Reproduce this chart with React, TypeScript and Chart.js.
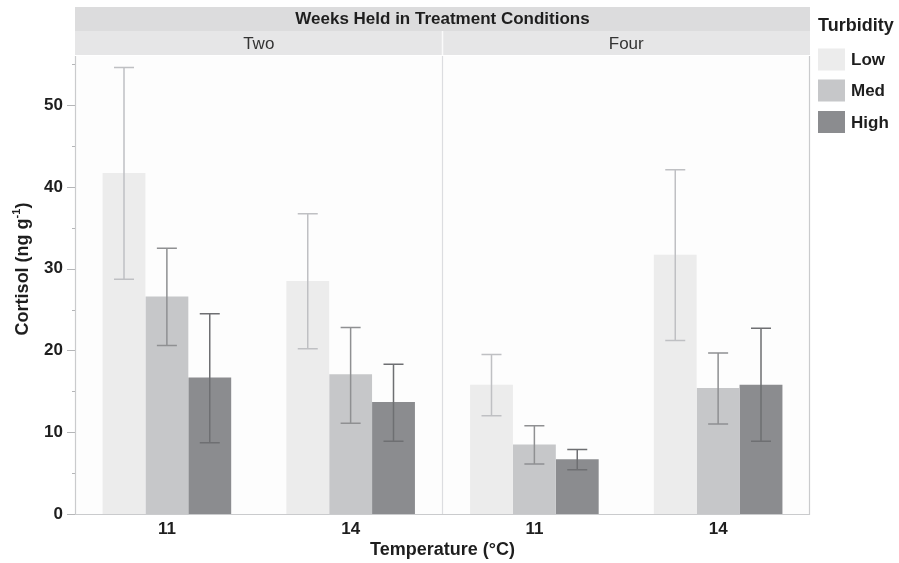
import React, { useEffect, useRef } from "react";
import { Chart, registerables } from "chart.js";

Chart.register(...registerables);

const categories = ["11", "14", "11", "14"];
const panelLabels = ["Two", "Four"];
const stripTitle = "Weeks Held in Treatment Conditions";
const seriesNames = ["Low", "Med", "High"];

const lowMeans = [41.7, 28.5, 15.8, 31.7];
const lowUpper = [54.6, 36.7, 19.5, 42.1];
const lowLower = [28.7, 20.2, 12.0, 21.2];

const medMeans = [26.6, 17.1, 8.5, 15.4];
const medUpper = [32.5, 22.8, 10.8, 19.7];
const medLower = [20.6, 11.1, 6.1, 11.0];

const highMeans = [16.7, 13.7, 6.7, 15.8];
const highUpper = [24.5, 18.3, 7.9, 22.7];
const highLower = [8.7, 8.9, 5.4, 8.9];

const yTickValues = [0, 10, 20, 30, 40, 50];
const yMinorValues = [5, 15, 25, 35, 45, 55];

const barColors = ["#ececec", "#c6c7c9", "#8b8c8f"];
const errColors = ["#bfc0c3", "#8f9092", "#6e6f72"];
const FONT = "'Liberation Sans', Arial, sans-serif";

const facetPlugin = {
  id: "facetPlugin",
  beforeDraw(chart: any) {
    const { ctx, chartArea } = chart;
    ctx.save();
    ctx.fillStyle = "#fdfdfd";
    ctx.fillRect(chartArea.left, chartArea.top, chartArea.right - chartArea.left, chartArea.bottom - chartArea.top);
    ctx.restore();
  },
  afterDatasetsDraw(chart: any) {
    const { ctx, scales } = chart;
    const y = scales.y;
    const ups = [lowUpper, medUpper, highUpper];
    const los = [lowLower, medLower, highLower];
    ctx.save();
    ctx.lineWidth = 1.5;
    for (let d = 0; d < 3; d++) {
      const meta = chart.getDatasetMeta(d);
      meta.data.forEach((bar: any, i: number) => {
        const cx = bar.x;
        const yu = y.getPixelForValue(ups[d][i]);
        const yl = y.getPixelForValue(los[d][i]);
        ctx.strokeStyle = errColors[d];
        ctx.beginPath();
        ctx.moveTo(cx, yu);
        ctx.lineTo(cx, yl);
        ctx.moveTo(cx - 10, yu);
        ctx.lineTo(cx + 10, yu);
        ctx.moveTo(cx - 10, yl);
        ctx.lineTo(cx + 10, yl);
        ctx.stroke();
      });
    }
    ctx.restore();
  },
  afterDraw(chart: any) {
    const { ctx, chartArea, scales } = chart;
    const { left, right, top, bottom } = chartArea;
    const y = scales.y;
    const mid = (left + right) / 2;
    ctx.save();
    // panel borders
    ctx.strokeStyle = "#cacbcd";
    ctx.lineWidth = 1.2;
    ctx.beginPath();
    ctx.moveTo(left + 0.5, top);
    ctx.lineTo(left + 0.5, bottom + 0.5);
    ctx.lineTo(right - 0.5, bottom + 0.5);
    ctx.lineTo(right - 0.5, top);
    ctx.stroke();
    ctx.strokeStyle = "#dcdde0";
    ctx.beginPath();
    ctx.moveTo(mid, top);
    ctx.lineTo(mid, bottom);
    ctx.stroke();

    // y ticks
    ctx.strokeStyle = "#b5b6b8";
    ctx.lineWidth = 1;
    ctx.beginPath();
    yTickValues.forEach((v) => {
      const py = Math.round(y.getPixelForValue(v)) + 0.5;
      ctx.moveTo(left - 8, py);
      ctx.lineTo(left, py);
    });
    yMinorValues.forEach((v) => {
      const py = Math.round(y.getPixelForValue(v)) + 0.5;
      ctx.moveTo(left - 3, py);
      ctx.lineTo(left, py);
    });
    ctx.stroke();

    // strips
    const stripTop = 7;
    const stripMid = 31;
    ctx.fillStyle = "#dcdcdd";
    ctx.fillRect(left, stripTop, right - left, stripMid - stripTop);
    ctx.fillStyle = "#e6e6e7";
    ctx.fillRect(left, stripMid, right - left, top - 1 - stripMid);
    ctx.strokeStyle = "#fafafa";
    ctx.lineWidth = 1.5;
    ctx.beginPath();
    ctx.moveTo(mid, stripMid);
    ctx.lineTo(mid, top - 1);
    ctx.stroke();

    ctx.fillStyle = "#1e1e1e";
    ctx.textAlign = "center";
    ctx.textBaseline = "middle";
    ctx.font = `bold 17px ${FONT}`;
    ctx.fillText(stripTitle, mid, 19.5);
    ctx.font = `17px ${FONT}`;
    ctx.fillStyle = "#333";
    ctx.fillText(panelLabels[0], (left + mid) / 2, 44);
    ctx.fillText(panelLabels[1], (mid + right) / 2, 44);

    // x title
    ctx.fillStyle = "#1e1e1e";
    ctx.font = `bold 18px ${FONT}`;
    ctx.fillText("Temperature (°C)", mid, 550);

    // y title with superscript
    ctx.save();
    ctx.translate(23, 269);
    ctx.rotate(-Math.PI / 2);
    const main = "Cortisol (ng g";
    const sup = "-1";
    const close = ")";
    ctx.font = `bold 18px ${FONT}`;
    const w1 = ctx.measureText(main).width;
    const w3 = ctx.measureText(close).width;
    ctx.font = `bold 11px ${FONT}`;
    const w2 = ctx.measureText(sup).width;
    const total = w1 + w2 + w3;
    let sx = -total / 2;
    ctx.textAlign = "left";
    ctx.font = `bold 18px ${FONT}`;
    ctx.fillText(main, sx, 0);
    sx += w1;
    ctx.font = `bold 11px ${FONT}`;
    ctx.fillText(sup, sx, -6);
    sx += w2;
    ctx.font = `bold 18px ${FONT}`;
    ctx.fillText(close, sx, 0);
    ctx.restore();

    // legend
    ctx.textAlign = "left";
    ctx.textBaseline = "middle";
    ctx.fillStyle = "#1e1e1e";
    ctx.font = `bold 18px ${FONT}`;
    ctx.fillText("Turbidity", 818, 26);
    const rows = [59.5, 90.5, 122];
    ctx.font = `bold 17px ${FONT}`;
    seriesNames.forEach((name, i) => {
      ctx.fillStyle = barColors[i];
      ctx.fillRect(818, rows[i] - 11, 27, 22);
      ctx.fillStyle = "#1e1e1e";
      ctx.fillText(name, 851, rows[i] + 1);
    });
    ctx.restore();
  },
};

export default function App() {
  const ref = useRef<HTMLCanvasElement | null>(null);
  useEffect(() => {
    if (!ref.current) return;
    const chart = new Chart(ref.current, {
      type: "bar",
      data: {
        labels: categories,
        datasets: [
          { label: seriesNames[0], data: lowMeans, backgroundColor: barColors[0] },
          { label: seriesNames[1], data: medMeans, backgroundColor: barColors[1] },
          { label: seriesNames[2], data: highMeans, backgroundColor: barColors[2] },
        ],
      },
      options: {
        animation: false,
        responsive: false,
        maintainAspectRatio: false,
        devicePixelRatio: 1,
        datasets: { bar: { categoryPercentage: 0.7, barPercentage: 1.0, borderWidth: 0 } },
        layout: { padding: { left: 0, right: 89, top: 56, bottom: 0 } },
        plugins: { legend: { display: false }, tooltip: { enabled: false }, title: { display: false } },
        scales: {
          x: {
            grid: { display: false, drawTicks: false },
            border: { display: false },
            ticks: { color: "#1e1e1e", font: { family: FONT, size: 17, weight: "bold" }, padding: 5, maxRotation: 0 },
            afterFit: (s: any) => { s.height = 49; },
          },
          y: {
            min: 0,
            max: 56,
            grid: { display: false, drawTicks: false },
            border: { display: false },
            afterBuildTicks: (s: any) => { s.ticks = yTickValues.map((v) => ({ value: v })); },
            ticks: { color: "#1e1e1e", font: { family: FONT, size: 17, weight: "bold" }, padding: 12 },
            afterFit: (s: any) => { s.width = 75; },
          },
        },
      },
      plugins: [facetPlugin],
    } as any);
    return () => chart.destroy();
  }, []);
  return (
    <div style={{ position: "absolute", left: 0, top: 0, width: 899, height: 563, background: "#fff" }}>
      <canvas ref={ref} width={899} height={563} style={{ width: 899, height: 563, display: "block" }} />
    </div>
  );
}
